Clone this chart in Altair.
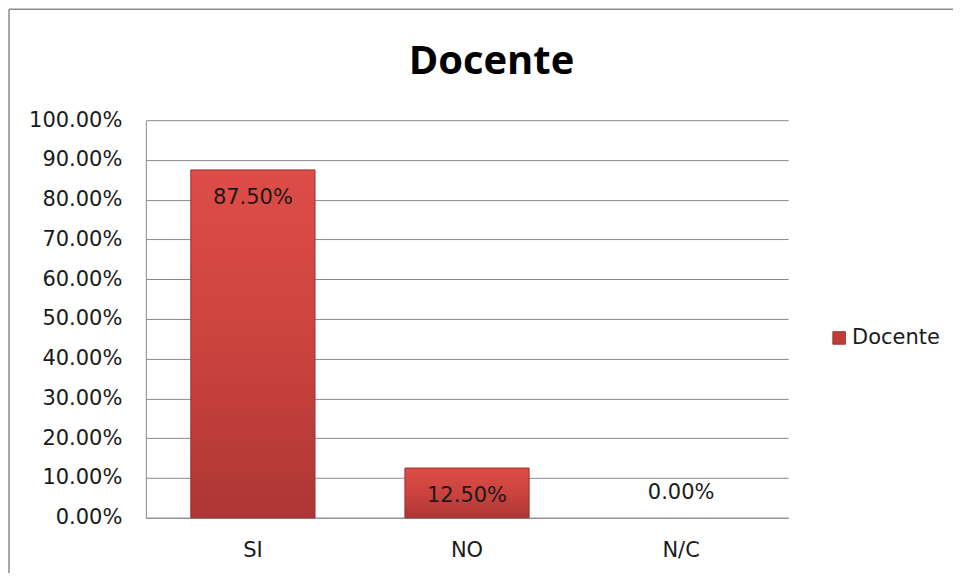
import altair as alt
import pandas as pd

categories = ["SI", "NO", "N/C"]
values = [0.875, 0.125, 0.0]
y_ticks = [0.0, 0.1, 0.2, 0.3, 0.4, 0.5, 0.6, 0.7, 0.8, 0.9, 1.0]
series_name = "Docente"
title_text = "Docente"

df = pd.DataFrame({"cat": categories, "val": values})

FONT = "DejaVu Sans"

bar_grad = alt.Gradient(
    gradient="linear",
    stops=[
        alt.GradientStop(color="#de4d47", offset=0),
        alt.GradientStop(color="#cc433e", offset=0.5),
        alt.GradientStop(color="#ad3635", offset=1),
    ],
    x1=0, x2=0, y1=0, y2=1,
)

x_axis = alt.Axis(
    title=None, labelAngle=0, ticks=False, labelFont=FONT, labelFontSize=21,
    labelColor="#1a1a1a", labelPadding=22, domainColor="#8a8a8a", grid=False,
)
y_axis = alt.Axis(
    title=None, format=".2%", values=y_ticks, ticks=False,
    labelFont=FONT, labelFontSize=21, labelColor="#1a1a1a", labelPadding=24,
    labelOverlap=False, domainColor="#8a8a8a", gridColor="#8a8a8a", gridWidth=1,
)

x_scale = alt.Scale(paddingInner=0.42, paddingOuter=0.21)
y_scale = alt.Scale(domain=[0, 1], nice=False)

def xe():
    return alt.X("cat:N", sort=categories, scale=x_scale, axis=x_axis)

def ye():
    return alt.Y("val:Q", scale=y_scale, axis=y_axis)

base = alt.Chart(df)

bars = base.transform_filter("datum.val > 0").mark_bar(
    fill=bar_grad, stroke="#9a2e2e", strokeWidth=1
).encode(x=xe(), y=ye())

labels_in = base.transform_filter("datum.val > 0").mark_text(
    font=FONT, fontSize=21, color="#1a1a1a", baseline="middle", dy=28
).encode(x=xe(), y=ye(), text=alt.Text("val:Q", format=".2%"))

labels_zero = base.transform_filter("datum.val <= 0").mark_text(
    font=FONT, fontSize=21, color="#1a1a1a", baseline="middle", dy=-25
).encode(x=xe(), y=ye(), text=alt.Text("val:Q", format=".2%"))

one = pd.DataFrame({"name": [series_name], "title": [title_text]})

title = alt.Chart(one).mark_text(
    font="Open Sans", fontSize=40, fontWeight="bold", color="#000000", align="center", baseline="middle"
).encode(x=alt.value(346), y=alt.value(-58), text="title:N")

# legend (manual)
leg_sq = alt.Chart(one).mark_square(
    size=160, fill="#c23b37", stroke="#8f2a2a", strokeWidth=0.8, opacity=1, fillOpacity=1
).encode(x=alt.value(694), y=alt.value(218))
leg_tx = alt.Chart(one).mark_text(
    font=FONT, fontSize=21, color="#1a1a1a", align="left", baseline="middle"
).encode(x=alt.value(707), y=alt.value(218), text="name:N")

# outer chart border
border_top = alt.Chart(one).mark_rule(color="#8a8a8a", strokeWidth=1.5).encode(
    x=alt.value(-137), x2=alt.value(820), y=alt.value(-111)
)
border_left = alt.Chart(one).mark_rule(color="#8a8a8a", strokeWidth=1.5).encode(
    x=alt.value(-137), y=alt.value(-111), y2=alt.value(470)
)

chart = alt.layer(
    bars, labels_in, labels_zero, title, leg_sq, leg_tx, border_top, border_left
).properties(
    width=643,
    height=398,
    padding={"left": 138, "top": 112, "right": 165, "bottom": 55},
    autosize=alt.AutoSizeParams(type="none"),
).configure_view(stroke=None)

chart.save("out.html", embed_options={"renderer": "svg", "actions": False})
